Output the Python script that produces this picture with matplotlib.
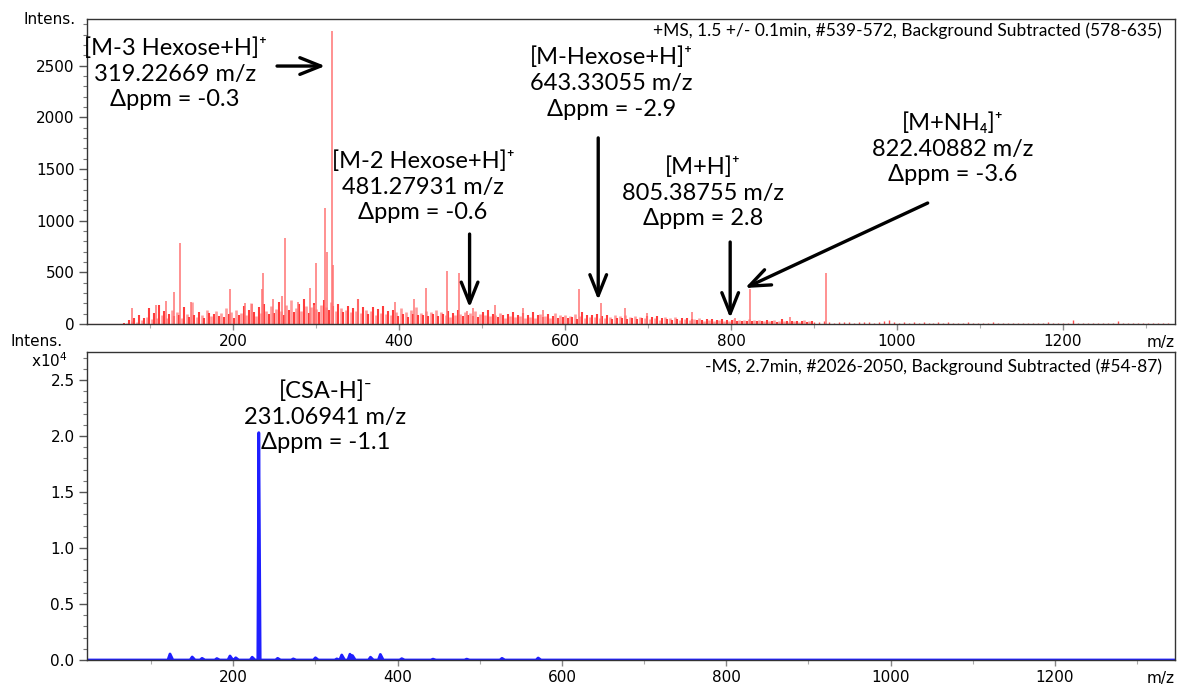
import numpy as np
import matplotlib
matplotlib.use("Agg")
import matplotlib.pyplot as plt
from matplotlib.ticker import MultipleLocator, FuncFormatter

# === positive mode (+MS), stick peaks ===
# prominent peaks (m/z, intensity)
pos_mz = [78, 107, 119, 129, 136, 149, 196, 214, 223, 235, 236.5, 248, 259, 263,
          278, 293, 297, 300, 311, 313, 319.2, 321, 351, 395, 418, 432, 458,
          472, 481.3, 489, 516, 549, 573, 617, 643.3, 672, 699, 753, 805.4,
          822.4, 871, 914]
pos_int = [155, 183, 222, 309, 780, 212, 338, 200, 193, 338, 492, 241, 270, 830,
           212, 347, 183, 589, 1119, 695, 2830, 570, 241, 212, 241, 347, 511,
           492, 130, 154, 183, 154, 135, 338, 200, 154, 106, 116, 60,
           338, 68, 490]

# chemical noise, m/z 66..897 every 3
noise_start, noise_step = 66, 3
noise_int = [
    3, 6, 12, 40, 25, 60, 18, 90, 35, 55,
    70, 150, 45, 110, 60, 180, 85, 130, 55, 95,
    140, 75, 120, 90, 60, 160, 100, 70, 215, 85,
    65, 120, 90, 55, 140, 110, 75, 95, 130, 80,
    105, 70, 150, 95, 120, 60, 135, 85, 110, 175,
    90, 140, 200, 120, 80, 160, 105, 190, 130, 95,
    170, 110, 145, 210, 125, 90, 180, 140, 230, 115,
    150, 190, 130, 240, 170, 110, 160, 205, 145, 120,
    180, 230, 160, 140, 210, 175, 130, 195, 155, 120,
    140, 170, 115, 150, 125, 240, 105, 160, 135, 95,
    130, 160, 90, 145, 110, 175, 100, 125, 85, 140,
    115, 80, 150, 95, 120, 70, 135, 100, 160, 85,
    110, 90, 130, 75, 120, 95, 140, 80, 115, 100,
    90, 125, 70, 110, 85, 135, 95, 75, 120, 90,
    105, 80, 130, 70, 95, 115, 85, 140, 75, 100,
    90, 70, 110, 85, 60, 100, 75, 120, 65, 90,
    80, 105, 60, 90, 70, 115, 55, 85, 100, 65,
    75, 95, 55, 80, 110, 60, 85, 70, 90, 55,
    80, 65, 95, 50, 75, 120, 60, 85, 70, 90,
    65, 100, 55, 80, 60, 90, 70, 50, 85, 60,
    75, 55, 90, 45, 70, 60, 80, 50, 65, 55,
    60, 75, 45, 65, 55, 80, 40, 60, 70, 45,
    55, 40, 65, 50, 35, 60, 45, 55, 40, 50,
    45, 35, 55, 40, 30, 50, 35, 45, 30, 40,
    35, 45, 30, 40, 25, 35, 50, 30, 40, 25,
    35, 30, 45, 25, 35, 30, 40, 25, 30, 35,
    30, 25, 35, 20, 30, 45, 25, 30, 20, 30,
    25, 30, 20, 25, 35, 20, 25, 30,
]
# sparse tail, m/z 900..1326 every 6
tail_start, tail_step = 900, 6
tail_int = [
    20, 15, 25, 18, 12, 22, 16, 20, 14, 18,
    15, 22, 12, 18, 25, 40, 16, 14, 20, 12,
    15, 10, 18, 12, 14, 20, 10, 16, 12, 14,
    10, 15, 12, 9, 14, 11, 16, 10, 12, 8,
    12, 9, 14, 10, 8, 12, 10, 15, 9, 11,
    8, 12, 35, 10, 9, 11, 8, 12, 10, 9,
    7, 30, 10, 8, 9, 7, 10, 8, 6, 8,
    6, 5,
]

# === negative mode (-MS) ===
neg_mz = [123, 150, 162, 180, 196, 203, 223, 231.07, 254, 273, 300, 326, 332,
          342, 345, 367, 379, 405, 443, 484, 527, 571]
neg_int = [540, 270, 150, 130, 360, 200, 250, 20300, 150, 100, 200, 100, 450,
           520, 400, 250, 500, 120, 80, 80, 150, 180]

# annotations
pos_labels = [
    "[M-3 Hexose+H]\u207a\n319.22669 m/z\nΔppm = -0.3",
    "[M-2 Hexose+H]\u207a\n481.27931 m/z\nΔppm = -0.6",
    "[M-Hexose+H]\u207a\n643.33055 m/z\nΔppm = -2.9",
    "[M+H]\u207a\n805.38755 m/z\nΔppm = 2.8",
    "[M+NH\u2084]\u207a\n822.40882 m/z\nΔppm = -3.6",
]
neg_label = "[CSA-H]\u207b\n231.06941 m/z\nΔppm = -1.1"

ANN_FONT = ['Lato', 'DejaVu Sans']
plt.rcParams['font.family'] = ['DejaVu Sans']
plt.rcParams['mathtext.fontset'] = 'dejavusans'

W, H = 1182, 688
fig = plt.figure(figsize=(W / 100, H / 100), dpi=100)

def px_axes(x0, y0, x1, y1):
    return fig.add_axes([x0 / W, 1 - y1 / H, (x1 - x0) / W, (y1 - y0) / H])

ax1 = px_axes(87, 19, 1175, 324)
ax2 = px_axes(87, 352, 1175, 660)

# --- top spectrum ---
noise_mz = noise_start + noise_step * np.arange(len(noise_int))
tail_mz = tail_start + tail_step * np.arange(len(tail_int))
ax1.plot([24, 66], [0, 0], color='#ff4040', lw=0.8)
ax1.vlines(noise_mz[0::2], 0, noise_int[0::2], color='#ff9c9c', lw=1.9)
ax1.vlines(noise_mz[1::2], 0, noise_int[1::2], color='#ff3b3b', lw=1.5)
ax1.vlines(tail_mz, 0, tail_int, color='#ff4d4d', lw=1.0)
ax1.vlines(pos_mz, 0, pos_int, color='#ff7373', lw=1.1)
ax1.set_xlim(24, 1335)
ax1.set_ylim(0, 2950)
ax1.yaxis.set_major_locator(MultipleLocator(500))
ax1.yaxis.set_minor_locator(MultipleLocator(100))

# --- bottom spectrum (profile) ---
prof_x, prof_y = [22], [0]
for m, h in sorted(zip(neg_mz, neg_int)):
    w = 1.2 if h > 5000 else 2.5
    prof_x += [m - w, m, m + w * 1.4]
    prof_y += [0, h, 0]
prof_x += [1346]
prof_y += [0]
ax2.fill(prof_x, prof_y, color='#1f1fff', lw=0)
ax2.plot(prof_x, prof_y, color='#1f1fff', lw=2)
ax2.set_xlim(22, 1346)
ax2.set_ylim(0, 27500)
ax2.yaxis.set_major_locator(MultipleLocator(5000))
ax2.yaxis.set_minor_locator(MultipleLocator(1000))
ax2.yaxis.set_major_formatter(FuncFormatter(lambda v, p: f"{v / 1e4:.1f}"))

for ax in (ax1, ax2):
    ax.xaxis.set_major_locator(MultipleLocator(200))
    ax.xaxis.set_minor_locator(MultipleLocator(100))
    ax.tick_params(axis='y', which='major', length=6, width=1, labelsize=11,
                   color='#555555', pad=3)
    ax.tick_params(axis='y', which='minor', length=3, width=0.8, color='#777777')
    ax.tick_params(axis='x', which='major', length=4, width=1, labelsize=11,
                   color='#888888', pad=3)
    ax.tick_params(axis='x', which='minor', length=3, width=0.8, color='#aaaaaa')
    for s in ax.spines.values():
        s.set_color('#333333')
        s.set_linewidth(1)
    ax.text(1.0, -0.035, "m/z", transform=ax.transAxes, ha='right', va='top',
            fontsize=11)

ax1.text(0.988, 0.96, "+MS, 1.5 +/- 0.1min, #539-572, Background Subtracted (578-635)",
         transform=ax1.transAxes, ha='right', va='center', fontsize=12.5,
         family=ANN_FONT)
ax2.text(0.988, 0.951, "-MS, 2.7min, #2026-2050, Background Subtracted (#54-87)",
         transform=ax2.transAxes, ha='right', va='center', fontsize=12.5,
         family=ANN_FONT)

fig.text(76 / W, 1 - 19 / H, "Intens.", ha='right', va='center', fontsize=11)
fig.text(63 / W, 1 - 342 / H, "Intens.", ha='right', va='center', fontsize=11)
fig.text(68 / W, 1 - 361 / H, "x10$^4$", ha='right', va='center', fontsize=11)

# --- annotations (text position, arrow tail, arrow head in data coords) ---
arrow = dict(arrowstyle='->,head_length=0.75,head_width=0.3', lw=2.4,
             color='black', mutation_scale=20, shrinkA=0, shrinkB=0)
ann_text_pos = [(130, 2420), (429, 1325), (656, 2330), (766, 1268), (1067, 1695)]
ann_tail = [(253, 2495), (485, 870), (640, 1800), (799, 793), (1037, 1170)]
ann_head = [(311, 2495), (485, 160), (640, 232), (799, 58), (817, 348)]
for lbl, tp, tl, hd in zip(pos_labels, ann_text_pos, ann_tail, ann_head):
    ax1.text(tp[0], tp[1], lbl, ha='center', va='center', fontsize=17,
             family=ANN_FONT, linespacing=1.27)
    ax1.annotate("", xy=hd, xytext=tl, arrowprops=arrow)

ax2.text(312, 21700, neg_label, ha='center', va='center', fontsize=17,
         family=ANN_FONT, linespacing=1.27)

fig.savefig("out.png", dpi=100)
